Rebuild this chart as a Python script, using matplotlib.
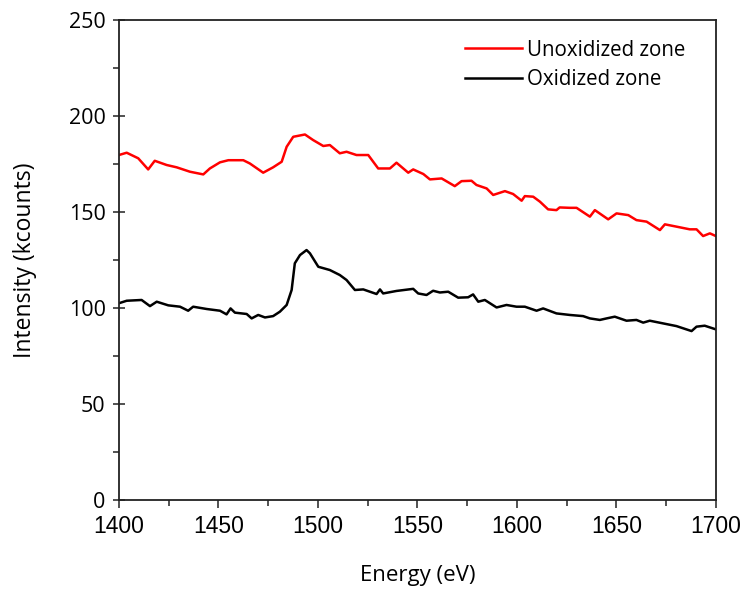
import matplotlib
matplotlib.use("Agg")
import matplotlib.pyplot as plt
from matplotlib.ticker import MultipleLocator

unox_e = [1400, 1403.9, 1409.7, 1414.7, 1418, 1424, 1429, 1435.7, 1442.4, 1445.7, 1450.8, 1455,
          1462.5, 1465.8, 1472.5, 1477.5, 1481.8, 1484.3, 1487.6, 1493.5, 1497.6, 1502.7, 1506,
          1511, 1514.4, 1519.4, 1525.3, 1530.3, 1536.2, 1539.5, 1545.4, 1547.9, 1553, 1556.3,
          1562.2, 1568.8, 1572.2, 1577.2, 1579.7, 1584.8, 1588.1, 1594, 1598.1, 1602.4, 1604,
          1608.2, 1611.6, 1615.7, 1619.9, 1621.5, 1626.6, 1630, 1636.7, 1639.2, 1645.9, 1650.1,
          1656, 1660.1, 1665.2, 1671.9, 1674.4, 1680.2, 1686.9, 1690.3, 1693.6, 1697, 1700]
unox_i = [179.7, 180.9, 178, 172.2, 176.7, 174.5, 173.3, 171, 169.6, 172.7, 175.9, 177,
          177, 175.3, 170.5, 173.3, 176.2, 184, 189.2, 190.4, 187.5, 184.4, 184.9,
          180.6, 181.4, 179.7, 179.7, 172.7, 172.7, 175.7, 170.5, 172.2, 169.8, 167,
          167.5, 163.5, 166.1, 166.3, 164.1, 162.3, 158.9, 160.9, 159.4, 155.9, 158.3,
          158, 155.4, 151.4, 151, 152.4, 152.2, 152.2, 147.6, 151, 146.2, 149.3,
          148.4, 145.8, 145, 140.6, 143.6, 142.4, 141, 141, 137.5, 138.9, 137.5]

ox_e = [1400, 1403.9, 1411.4, 1415.6, 1419, 1424.8, 1430.7, 1434.8, 1437.3, 1444.1, 1450.8,
        1454.1, 1456.1, 1458.3, 1464.2, 1466.7, 1470, 1473.4, 1477.5, 1480.9, 1484.3, 1486.8,
        1488.4, 1491, 1494.3, 1496, 1500.2, 1506, 1511, 1514.4, 1518.6, 1522.8, 1529.5,
        1531.2, 1532.8, 1539.5, 1547.9, 1550.4, 1554.6, 1557.9, 1561.3, 1565.5, 1570.5,
        1575.5, 1578, 1580.6, 1583.9, 1589.8, 1594.8, 1599.8, 1604, 1609.9, 1613.2, 1619.9,
        1626.6, 1633.3, 1636.7, 1641.7, 1645.1, 1649.2, 1655.1, 1660.1, 1663.5, 1666.8,
        1673.5, 1680.2, 1687.8, 1690.3, 1694.4, 1700]
ox_i = [102.5, 103.8, 104.2, 101, 103.3, 101.4, 100.7, 98.6, 100.7, 99.5, 98.6,
        96.7, 99.8, 97.6, 96.9, 94.6, 96.4, 95.1, 95.8, 98.1, 101.6, 109.4,
        123.3, 127.6, 130.2, 128.5, 121.5, 119.8, 117.2, 114.6, 109.4, 109.7, 107.3,
        109.7, 107.6, 108.9, 110, 107.6, 106.8, 109, 108.1, 108.5, 105.4,
        105.6, 107.1, 103.3, 104.2, 100.3, 101.6, 100.7, 100.7, 98.6, 99.8, 97.2,
        96.4, 95.8, 94.6, 93.8, 94.6, 95.5, 93.4, 93.8, 92.4, 93.4,
        92, 90.6, 88, 90.3, 90.8, 88.9]

labels = ["Unoxidized zone", "Oxidized zone"]
colors = ["#ff0000", "#000000"]

fig = plt.figure(figsize=(7.48, 5.90), dpi=100)
ax = fig.add_axes([0.159, 0.1525, 0.798, 0.8135])
ax.plot(unox_e, unox_i, color=colors[0], lw=1.8, label=labels[0])
ax.plot(ox_e, ox_i, color=colors[1], lw=1.8, label=labels[1])

ax.set_xlim(1400, 1700)
ax.set_ylim(0, 250)
ax.xaxis.set_major_locator(MultipleLocator(50))
ax.xaxis.set_minor_locator(MultipleLocator(25))
ax.yaxis.set_major_locator(MultipleLocator(50))
ax.yaxis.set_minor_locator(MultipleLocator(25))
ax.tick_params(which="major", direction="inout", length=9, width=1.2, color="#333333")
ax.tick_params(which="minor", direction="out", length=4, width=1.2, color="#333333")
ax.tick_params(axis="x", which="major", direction="out", length=6, labelsize=16.5, pad=5)
ax.tick_params(axis="y", labelsize=15.5, pad=5)
for lab in ax.get_xticklabels():
    lab.set_family("Liberation Sans")
for lab in ax.get_yticklabels():
    lab.set_family("Open Sans")
for s in ax.spines.values():
    s.set_linewidth(1.3)
    s.set_color("#222222")

ax.set_xlabel("Energy (eV)", fontsize=16, family="Open Sans", labelpad=19)
ax.set_ylabel("Intensity (kcounts)", fontsize=16.5, family="Open Sans", labelpad=23)

leg = ax.legend(loc="upper left", bbox_to_anchor=(0.549, 0.998), frameon=False,
                prop={"family": "Open Sans", "size": 14.8}, handlelength=2.77,
                handletextpad=0.25, labelspacing=0.4)

fig.savefig("out.png", dpi=100)
